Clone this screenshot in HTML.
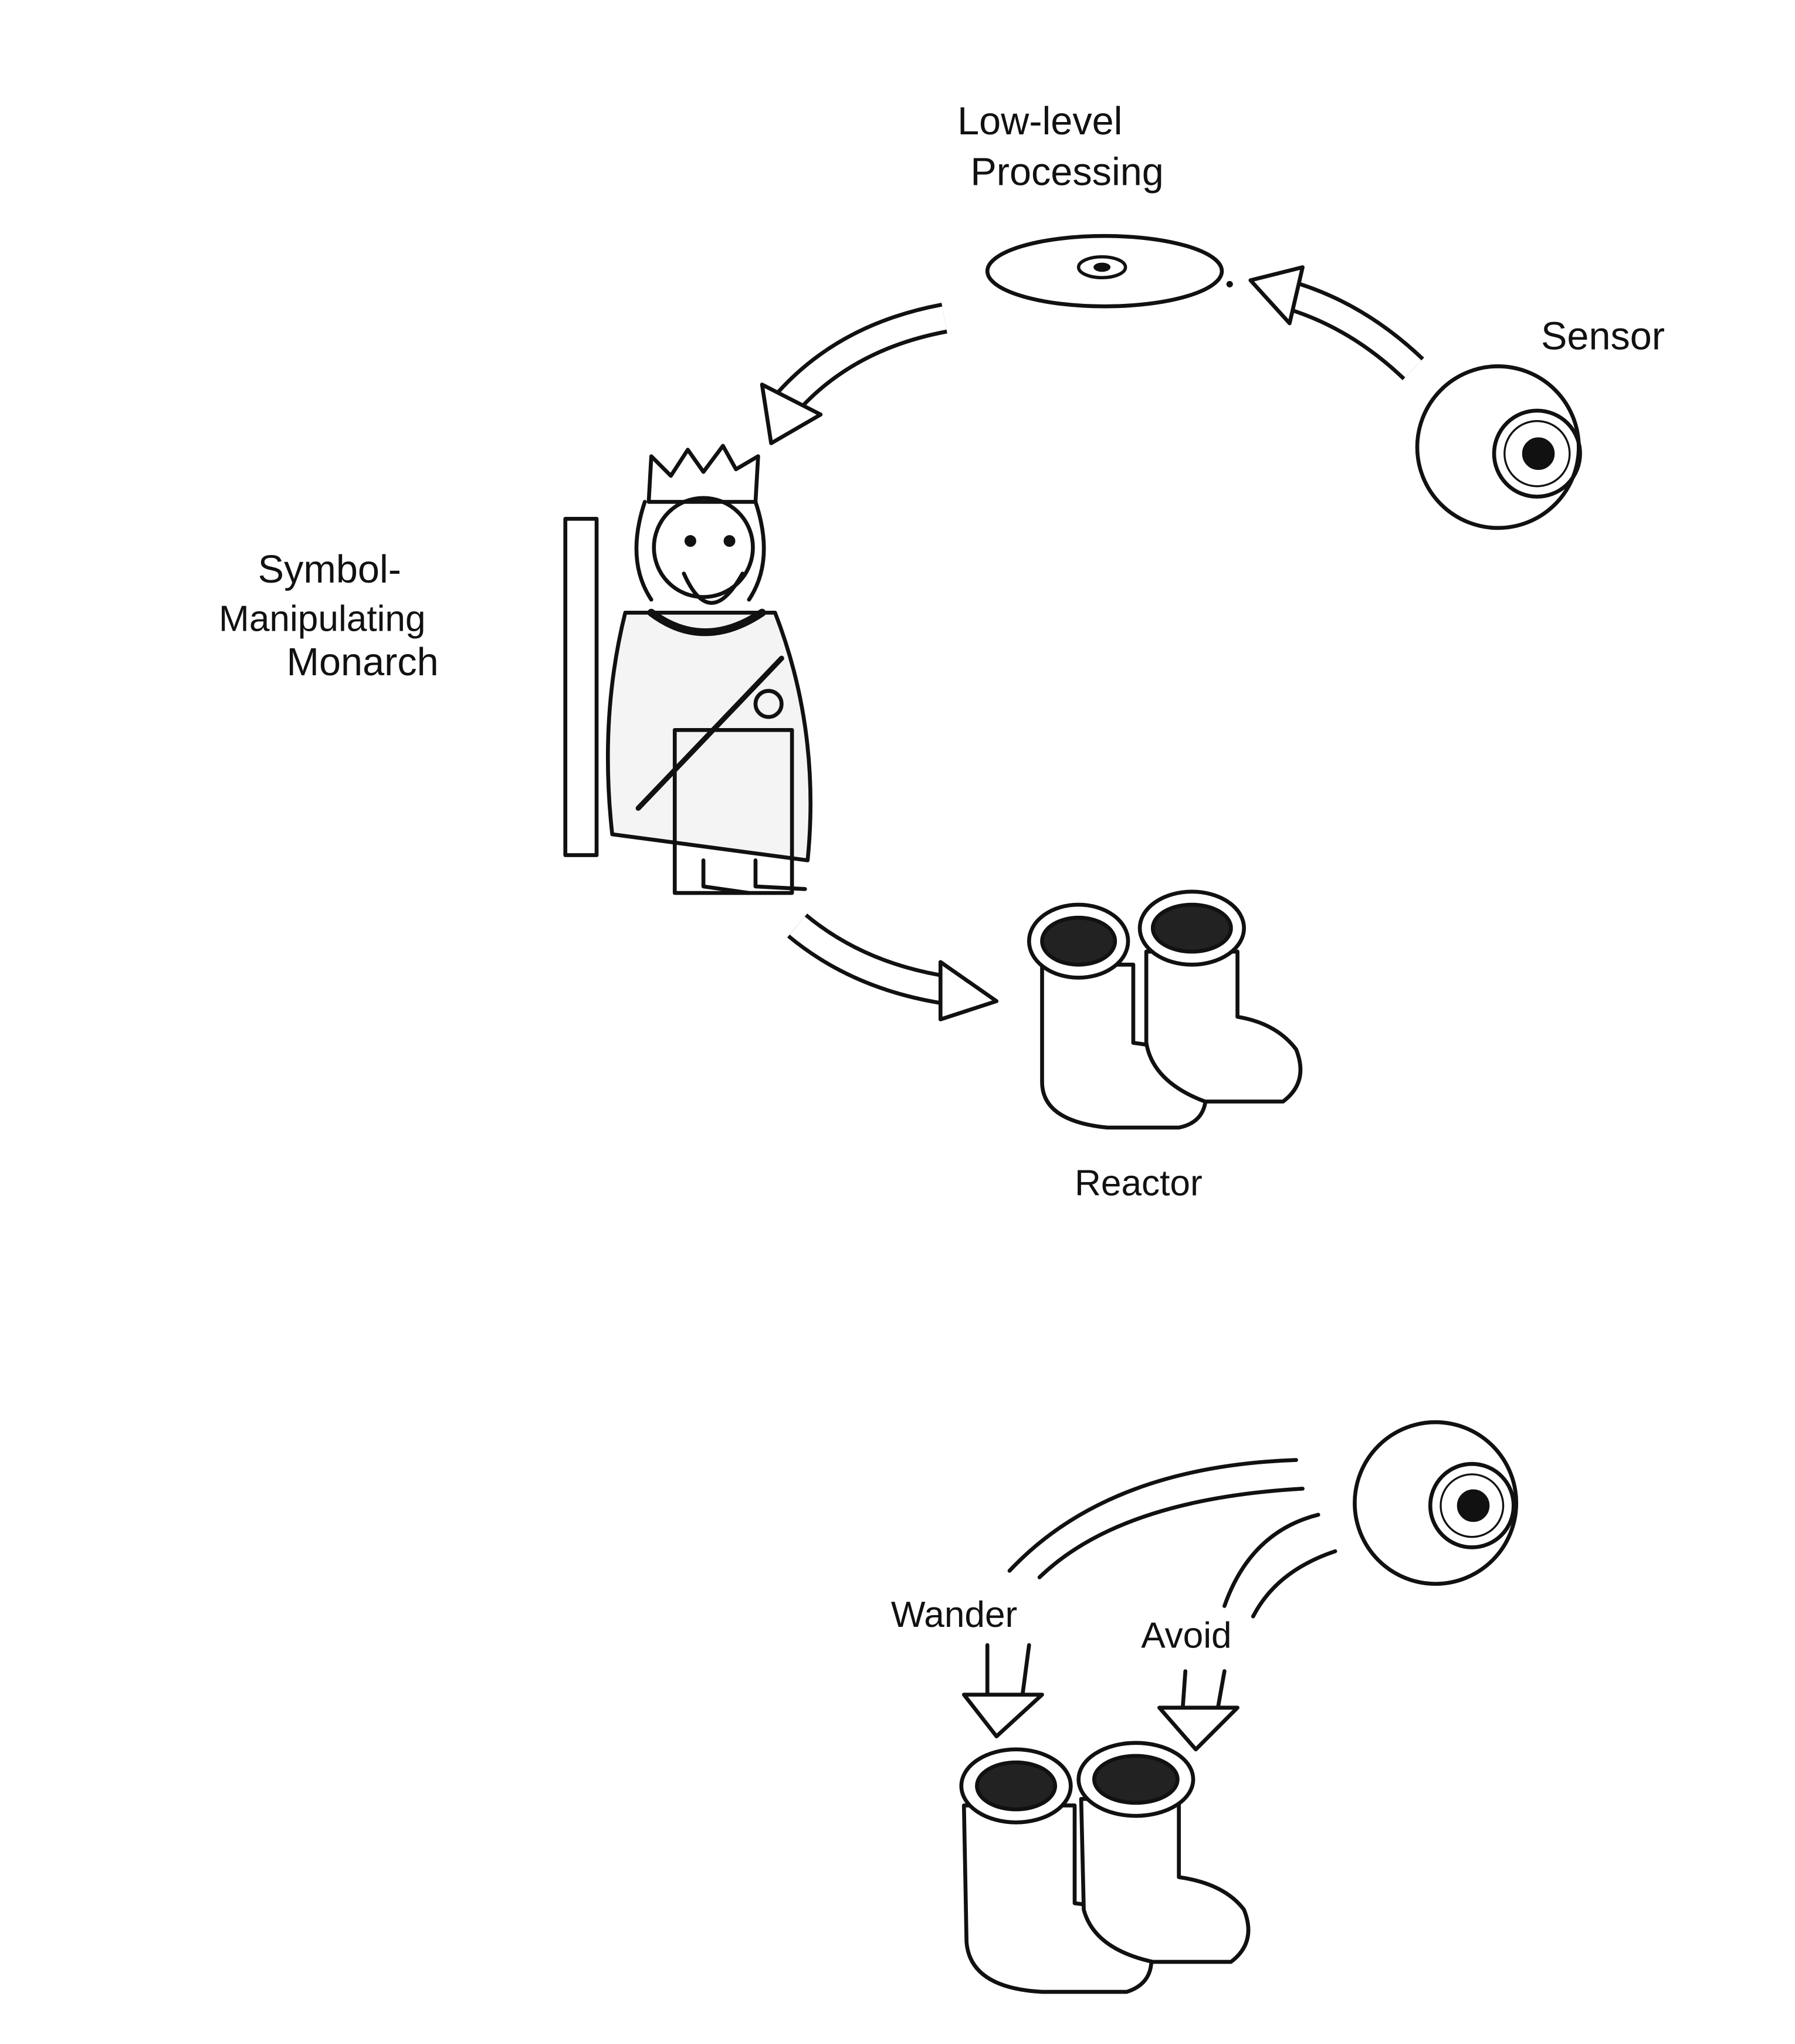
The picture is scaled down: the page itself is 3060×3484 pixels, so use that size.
<!DOCTYPE html>
<html><head><meta charset="utf-8"><style>
html,body{margin:0;padding:0;background:#fff;}
svg{display:block;}
text{font-family:"Liberation Sans",sans-serif;fill:#111;}
</style></head><body>
<svg width="3060" height="3484" viewBox="0 0 1378 1568" preserveAspectRatio="none" xmlns="http://www.w3.org/2000/svg">
<rect width="1378" height="1568" fill="#fff"/>
<g stroke="#111" fill="none" stroke-linecap="round" stroke-linejoin="round">

<ellipse cx="848" cy="208" rx="90" ry="27" stroke-width="3"/>
<ellipse cx="846" cy="205" rx="18" ry="8" stroke-width="2.5"/>
<ellipse cx="846" cy="205" rx="6" ry="3" fill="#111"/>
<circle cx="944" cy="218" r="2" fill="#111"/>

<path d="M725 244 Q650 258 605 308" stroke-width="24" stroke-linecap="butt"/>
<path d="M725 244 Q650 258 605 308" stroke="#fff" stroke-width="18" stroke-linecap="butt"/>
<polygon points="585,295 630,318 592,340" fill="#fff" stroke-width="3"/>

<path d="M1085 283 Q1040 240 985 225" stroke-width="24" stroke-linecap="butt"/>
<path d="M1085 283 Q1040 240 985 225" stroke="#fff" stroke-width="18" stroke-linecap="butt"/>
<polygon points="960,215 1000,205 990,248" fill="#fff" stroke-width="3"/>

<circle cx="1150" cy="343" r="62" stroke-width="3"/>
<circle cx="1180" cy="348" r="33" stroke-width="3"/>
<circle cx="1180" cy="348" r="25" stroke-width="1.5"/>
<circle cx="1181" cy="348" r="12" fill="#111"/>

<rect x="434" y="398" width="24" height="258" stroke-width="3"/>
<polygon points="498,385 500,350 515,365 528,345 540,362 555,342 565,360 582,350 580,385" stroke-width="3" fill="#fff"/>
<path d="M495 385 Q480 430 500 460 M580 385 Q595 430 575 460" stroke-width="3"/>
<ellipse cx="540" cy="420" rx="38" ry="38" stroke-width="3"/>
<circle cx="530" cy="415" r="4" fill="#111"/>
<circle cx="560" cy="415" r="4" fill="#111"/>
<path d="M525 440 Q545 485 570 440" stroke-width="3"/>
<path d="M480 470 Q460 550 470 640 L620 660 Q630 560 595 470 Z" stroke-width="3" fill="#f4f4f4"/>
<path d="M500 470 Q540 500 585 470" stroke-width="6"/>
<path d="M490 620 L600 505" stroke-width="4"/>
<circle cx="590" cy="540" r="10" stroke-width="3"/>
<rect x="518" y="560" width="90" height="125" stroke-width="3"/>
<path d="M540 660 L540 680 L575 685 M580 660 L580 680 L618 682" stroke-width="3"/>

<path d="M612 710 Q660 750 730 760" stroke-width="24" stroke-linecap="butt"/>
<path d="M612 710 Q660 750 730 760" stroke="#fff" stroke-width="18" stroke-linecap="butt"/>
<polygon points="722,738 765,768 722,782" fill="#fff" stroke-width="3"/>

<g stroke-width="3" fill="#fff">
<path d="M800 740 L800 830 Q800 860 850 865 L905 865 Q930 860 925 830 Q915 805 870 800 L870 740 Z"/>
<path d="M880 730 L880 800 Q885 830 925 845 L985 845 Q1005 830 995 805 Q980 785 950 780 L950 730 Z"/>
<ellipse cx="828" cy="722" rx="38" ry="28"/>
<ellipse cx="828" cy="722" rx="28" ry="18" fill="#222"/>
<ellipse cx="915" cy="712" rx="40" ry="28"/>
<ellipse cx="915" cy="712" rx="30" ry="18" fill="#222"/>
</g>

<circle cx="1102" cy="1153" r="62" stroke-width="3"/>
<circle cx="1130" cy="1155" r="32" stroke-width="3"/>
<circle cx="1130" cy="1155" r="24" stroke-width="1.5"/>
<circle cx="1131" cy="1155" r="12" fill="#111"/>

<path d="M995 1120 Q850 1125 775 1205" stroke-width="3"/>
<path d="M1000 1142 Q860 1150 798 1210" stroke-width="3"/>
<path d="M1012 1162 Q960 1175 940 1232" stroke-width="3"/>
<path d="M1025 1190 Q980 1205 962 1240" stroke-width="3"/>

<path d="M758 1262 L758 1300 M790 1262 L785 1300" stroke-width="3"/>
<polygon points="740,1300 800,1300 765,1332" fill="#fff" stroke-width="3"/>
<path d="M910 1282 L908 1310 M940 1282 L935 1310" stroke-width="3"/>
<polygon points="890,1310 950,1310 918,1342" fill="#fff" stroke-width="3"/>

<g stroke-width="3" fill="#fff">
<path d="M740 1385 L742 1490 Q745 1525 800 1528 L865 1528 Q890 1520 882 1490 Q870 1465 825 1460 L825 1385 Z"/>
<path d="M830 1380 L832 1465 Q840 1495 885 1505 L945 1505 Q965 1490 955 1465 Q940 1445 905 1440 L905 1380 Z"/>
<ellipse cx="780" cy="1370" rx="42" ry="28"/>
<ellipse cx="780" cy="1370" rx="30" ry="18" fill="#222"/>
<ellipse cx="872" cy="1365" rx="44" ry="28"/>
<ellipse cx="872" cy="1365" rx="32" ry="18" fill="#222"/>
</g>
</g>

<text x="735" y="103" font-size="30">Low-level</text>
<text x="745" y="142" font-size="30">Processing</text>
<text x="1183" y="268" font-size="30">Sensor</text>
<text x="198" y="447" font-size="30">Symbol-</text>
<text x="168" y="484" font-size="28">Manipulating</text>
<text x="220" y="518" font-size="30">Monarch</text>
<text x="825" y="917" font-size="28">Reactor</text>
<text x="684" y="1248" font-size="28">Wander</text>
<text x="876" y="1264" font-size="28">Avoid</text>
</svg>
</body></html>
